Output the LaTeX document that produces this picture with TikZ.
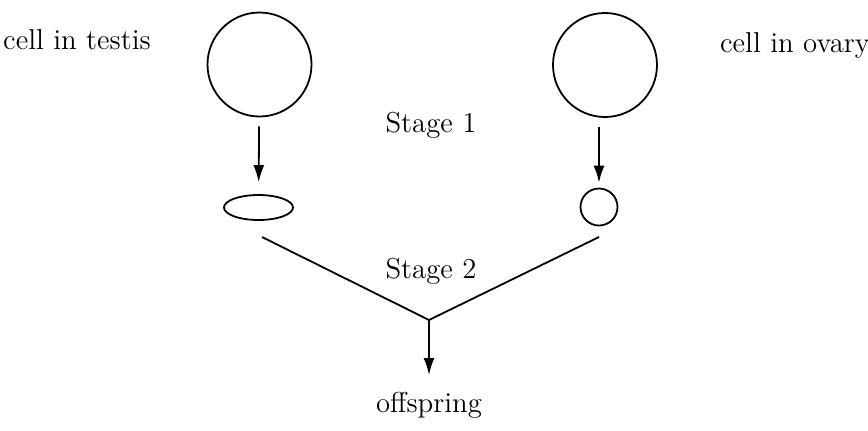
\documentclass[tikz,border=0pt]{standalone}
\usepackage{tikz}
\usetikzlibrary{arrows.meta,positioning,shapes.geometric}

\begin{document}
\begin{tikzpicture}[x=0.5pt, y=-0.5pt, font=\fontsize{14.4}{17}\selectfont]
  \tikzstyle{cell}=[circle, draw, line width=0.9pt, inner sep=0pt]
  \tikzstyle{caption}=[inner sep=0pt, anchor=base]
  \tikzstyle{arrow}=[-{Latex[length=8.5pt, width=5.5pt]}, line width=0.9pt]
  \tikzstyle{fuse}=[line width=0.9pt]

  \useasboundingbox (0,0) rectangle (868,430);

  \node[cell, minimum size=52pt] (testis) at (259.5,64.5) {};
  \node[cell, minimum size=52pt] (ovary) at (605,65) {};
  \node[cell, ellipse, minimum width=34.5pt, minimum height=12.5pt] (sperm) at (258.5,207.5) {};
  \node[cell, minimum size=18.5pt] (egg) at (599,207) {};

  \node[caption] (testislbl) at (77,49) {cell in testis};
  \node[caption] (ovarylbl) at (795,52) {cell in ovary};
  \node[caption] (stage1) at (431,132) {Stage 1};
  \node[caption] (stage2) at (431,278) {Stage 2};
  \node[caption] (offspring) at (429,412) {of{}fspring};

  \coordinate (lfoot) at (262,237);
  \coordinate (rfoot) at (599,237);
  \coordinate (meet) at (429,320);
  \coordinate (tip) at (429,375);

  \draw[arrow, shorten <=4.5pt, shorten >=6pt] (testis) -- (sperm);
  \draw[arrow, shorten <=4.5pt, shorten >=2.5pt] (ovary.south -| egg) -- (egg);
  \draw[fuse] (lfoot) -- (meet) -- (rfoot);
  \draw[arrow] (meet) -- (tip);
\end{tikzpicture}
\end{document}
